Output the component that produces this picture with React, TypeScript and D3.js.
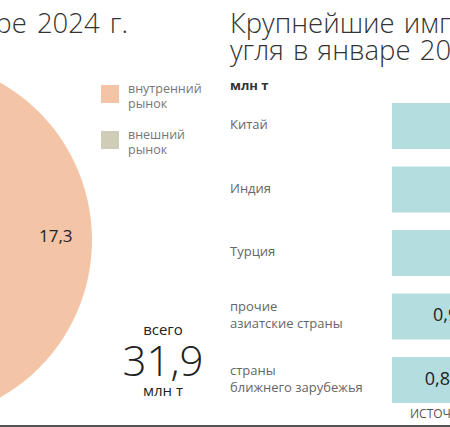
import * as d3 from 'd3';

// структура поставок, млн т
const shareKeys = ['внутренний рынок', 'внешний рынок'];
const shareValues = [17.3, 14.6];
const shareTotal = 31.9;

// крупнейшие импортёры, млн т
const importers = ['Китай', 'Индия', 'Турция', 'прочие азиатские страны', 'страны ближнего зарубежья'];
const importerLines = [['Китай'], ['Индия'], ['Турция'], ['прочие', 'азиатские страны'], ['страны', 'ближнего зарубежья']];
const importValues = [8.3, 2.1, 1.3, 0.9, 0.8];

const W = 450;
const H = 427;
const FONT = '"Open Sans", "Noto Sans", sans-serif';
const PEACH = '#f3c4a6';
const SAGE = '#cfcdb8';
const TEAL = '#b4dde0';

const ru = d3.formatLocale({ decimal: ',', thousands: ' ', grouping: [3], currency: ['', ''] });
const fmt = ru.format('.1f');

export default function App() {
  // pie
  const cx = -89;
  const cy = 240;
  const r = 181;
  const color = d3.scaleOrdinal<string, string>().domain(shareKeys).range([PEACH, SAGE]);
  const pie = d3.pie<number>().sort(null).startAngle(-0.15).endAngle(-0.15 + Math.PI * 2);
  const arcs = pie(shareValues);
  const arc = d3.arc<d3.PieArcDatum<number>>().innerRadius(0).outerRadius(r);
  const labelArc = d3.arc<d3.PieArcDatum<number>>().innerRadius(r * 0.6).outerRadius(r);

  // bars
  const y = d3.scaleBand<string>().domain(importers).range([103, 403]).paddingInner(0.276).paddingOuter(0);
  const x = d3.scaleLinear().domain([0, 1]).range([392, 474.5]);

  return (
    <div style={{ position: 'fixed', left: 0, top: 0 }}>
      <svg width={W} height={H} style={{ display: 'block', fontFamily: FONT }}>
        <rect width={W} height={H} fill="#fff" />

        {/* left: pie */}
        <text x={128} y={33} textAnchor="end" fontSize={27.5} fontWeight={300} fill="#333" wordSpacing={3}>
          Поставки угля в январе 2024 г.
        </text>
        <g transform={`translate(${cx},${cy})`}>
          {arcs.map((a, i) => (
            <path key={i} d={arc(a) ?? ''} fill={color(shareKeys[i])} />
          ))}
          {arcs.slice(0, 1).map((a, i) => {
            const [lx, ly] = labelArc.centroid(a);
            return (
              <text key={i} x={lx} y={ly} textAnchor="middle" dominantBaseline="middle" fontSize={17} fontWeight={500} fill="#222">
                {fmt(a.data)}
              </text>
            );
          })}
        </g>

        {shareKeys.map((k, i) => {
          const top = 85 + i * 46;
          const words = k.split(' ');
          return (
            <g key={k}>
              <rect x={101} y={top} width={18} height={18} fill={color(k)} />
              {words.map((w, j) => (
                <text key={j} x={128} y={top + 8 + j * 15} fontSize={12.5} fill="#777">
                  {w}
                </text>
              ))}
            </g>
          );
        })}

        <g textAnchor="middle" fill="#222">
          <text x={163} y={335} fontSize={15}>всего</text>
          <text x={163} y={376} fontSize={42} fontWeight={300}>{fmt(shareTotal)}</text>
          <text x={163} y={396} fontSize={15}>млн т</text>
        </g>

        {/* right: bars */}
        <text x={230} y={33} fontSize={27.5} fontWeight={300} fill="#333" wordSpacing={2}>Крупнейшие импортеры российского</text>
        <text x={230} y={60} fontSize={27.5} fontWeight={300} fill="#333" wordSpacing={2}>угля в январе 2024 г.</text>
        <text x={230} y={90} fontSize={13} fontWeight={700} fill="#333">млн т</text>

        {importers.map((c, i) => {
          const top = y(c) ?? 0;
          const mid = top + y.bandwidth() / 2;
          const lines = importerLines[i];
          const v = importValues[i];
          return (
            <g key={c}>
              <rect x={x(0)} y={top} width={x(v) - x(0)} height={y.bandwidth()} fill={TEAL} />
              {lines.map((l, j) => (
                <text key={j} x={230} y={mid + (j - (lines.length - 1) / 2) * 17} dominantBaseline="middle" fontSize={13} fill="#666">
                  {l}
                </text>
              ))}
              <text x={x(v) - 8} y={mid} textAnchor="end" dominantBaseline="middle" fontSize={18} fill="#222">
                {fmt(v)}
              </text>
            </g>
          );
        })}

        <text x={410} y={418} fontSize={12} fill="#555">ИСТОЧНИК: ЦДУ ТЭК</text>
        <line x1={0} x2={W} y1={426} y2={426} stroke="#555" strokeWidth={2} />
      </svg>
    </div>
  );
}
